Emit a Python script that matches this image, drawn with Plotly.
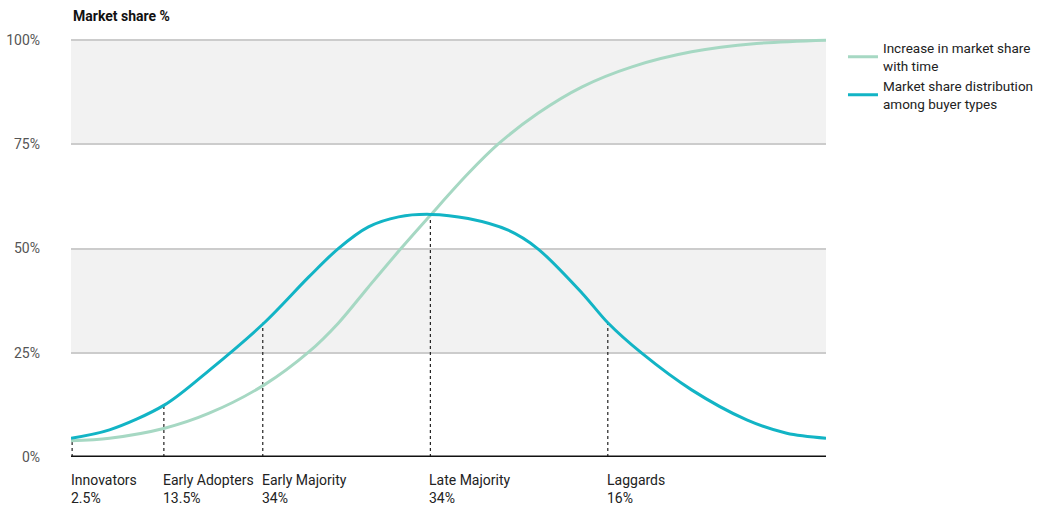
import plotly.graph_objects as go

# ---- data ----
dist_x = [0, 5.1, 12.4, 18.3, 25.6, 31.5, 35.4, 39.4, 43.4, 47.6, 52.6, 57.9, 61.8, 67.7, 71.1, 75.6, 82.2, 89.5, 94.8, 100]
dist_y = [4.5, 6.5, 12.5, 20.8, 32.2, 43.2, 50.0, 55.2, 57.6, 58.2, 57.2, 54.4, 50.0, 39.3, 32.2, 24.9, 16.1, 8.9, 5.7, 4.5]

cum_x = [0, 5.1, 12.4, 18.3, 25.6, 31.5, 35.4, 39.4, 43.7, 47.6, 52.6, 56.6, 61.8, 67.7, 74.3, 82.2, 90.8, 100]
cum_y = [3.9, 4.5, 6.9, 10.5, 17.3, 25.2, 32.1, 40.8, 50.0, 58.0, 68.0, 75.1, 82.4, 88.8, 93.6, 97.2, 99.2, 100]

stage_names = ["Innovators", "Early Adopters", "Early Majority", "Late Majority", "Laggards"]
stage_shares = ["2.5%", "13.5%", "34%", "34%", "16%"]
stage_x = [0.15, 12.3, 25.4, 47.6, 71.1]
stage_top = [3.8, 12.5, 32.2, 58.0, 32.2]

y_ticks = [0, 25, 50, 75, 100]
y_tick_text = ["0%", "25%", "50%", "75%", "100%"]
bands = [(25, 50), (75, 100)]

GREEN = "#a6d8c3"
TEAL = "#12b4c5"
FONT = "Roboto, Arial, sans-serif"

fig = go.Figure()

# dotted stage markers
for sx, st in zip(stage_x, stage_top):
    fig.add_trace(go.Scatter(x=[sx, sx], y=[0, st], mode="lines",
                             line=dict(color="#222", width=1.2, dash="dot"),
                             showlegend=False, hoverinfo="skip"))

fig.add_trace(go.Scatter(x=cum_x, y=cum_y, mode="lines",
                         line=dict(color=GREEN, width=3, shape="spline", smoothing=0.9),
                         name="Increase in market share<br>with time"))
fig.add_trace(go.Scatter(x=dist_x, y=dist_y, mode="lines",
                         line=dict(color=TEAL, width=3, shape="spline", smoothing=0.9),
                         name="Market share distribution<br>among buyer types"))

for lo, hi in bands:
    fig.add_shape(type="rect", xref="x domain", yref="y", x0=0, x1=1, y0=lo, y1=hi,
                  fillcolor="#f2f2f2", line_width=0, layer="below")

# baseline
fig.add_shape(type="line", xref="x domain", yref="y", x0=0, x1=1, y0=0, y1=0,
              line=dict(color="#111", width=3), layer="above")

for name, share, sx in zip(stage_names, stage_shares, stage_x):
    fig.add_annotation(x=sx, y=0, xref="x", yref="paper", xanchor="left", yanchor="top",
                       xshift=-3, yshift=-13, showarrow=False, align="left",
                       text=f"{name}<br>{share}",
                       font=dict(family=FONT, size=14, color="#222"))

fig.add_annotation(x=0, y=1, xref="paper", yref="paper", xanchor="left", yanchor="bottom",
                   yshift=10, showarrow=False, text="<b>Market share %</b>",
                   font=dict(family=FONT, size=14, color="#111"))

fig.update_layout(
    width=1038, height=507,
    margin=dict(l=71, r=212, t=36, b=50, autoexpand=False),
    plot_bgcolor="white", paper_bgcolor="white",
    font=dict(family=FONT, size=14, color="#222"),
    showlegend=True,
    legend=dict(x=1.0225, y=1.008, xanchor="left", yanchor="top", xref="paper", yref="paper",
                font=dict(family=FONT, size=13.5, color="#222"),
                bgcolor="rgba(0,0,0,0)", tracegroupgap=2, itemwidth=30),
    xaxis=dict(range=[0, 100], showgrid=False, zeroline=False, showticklabels=False,
               showline=False, fixedrange=True, automargin=False),
    yaxis=dict(range=[0, 101], tickvals=y_ticks, ticktext=y_tick_text,
               showgrid=True, gridcolor="#cccccc", gridwidth=1.5, zeroline=False,
               showline=False, ticklabelstandoff=30, automargin=False, fixedrange=True,
               tickfont=dict(family="Roboto, Arial, sans-serif", size=14, color="#555")),
)

fig.write_html("out.html", config={"displayModeBar": False},
               post_script="document.body.style.margin='0';")
